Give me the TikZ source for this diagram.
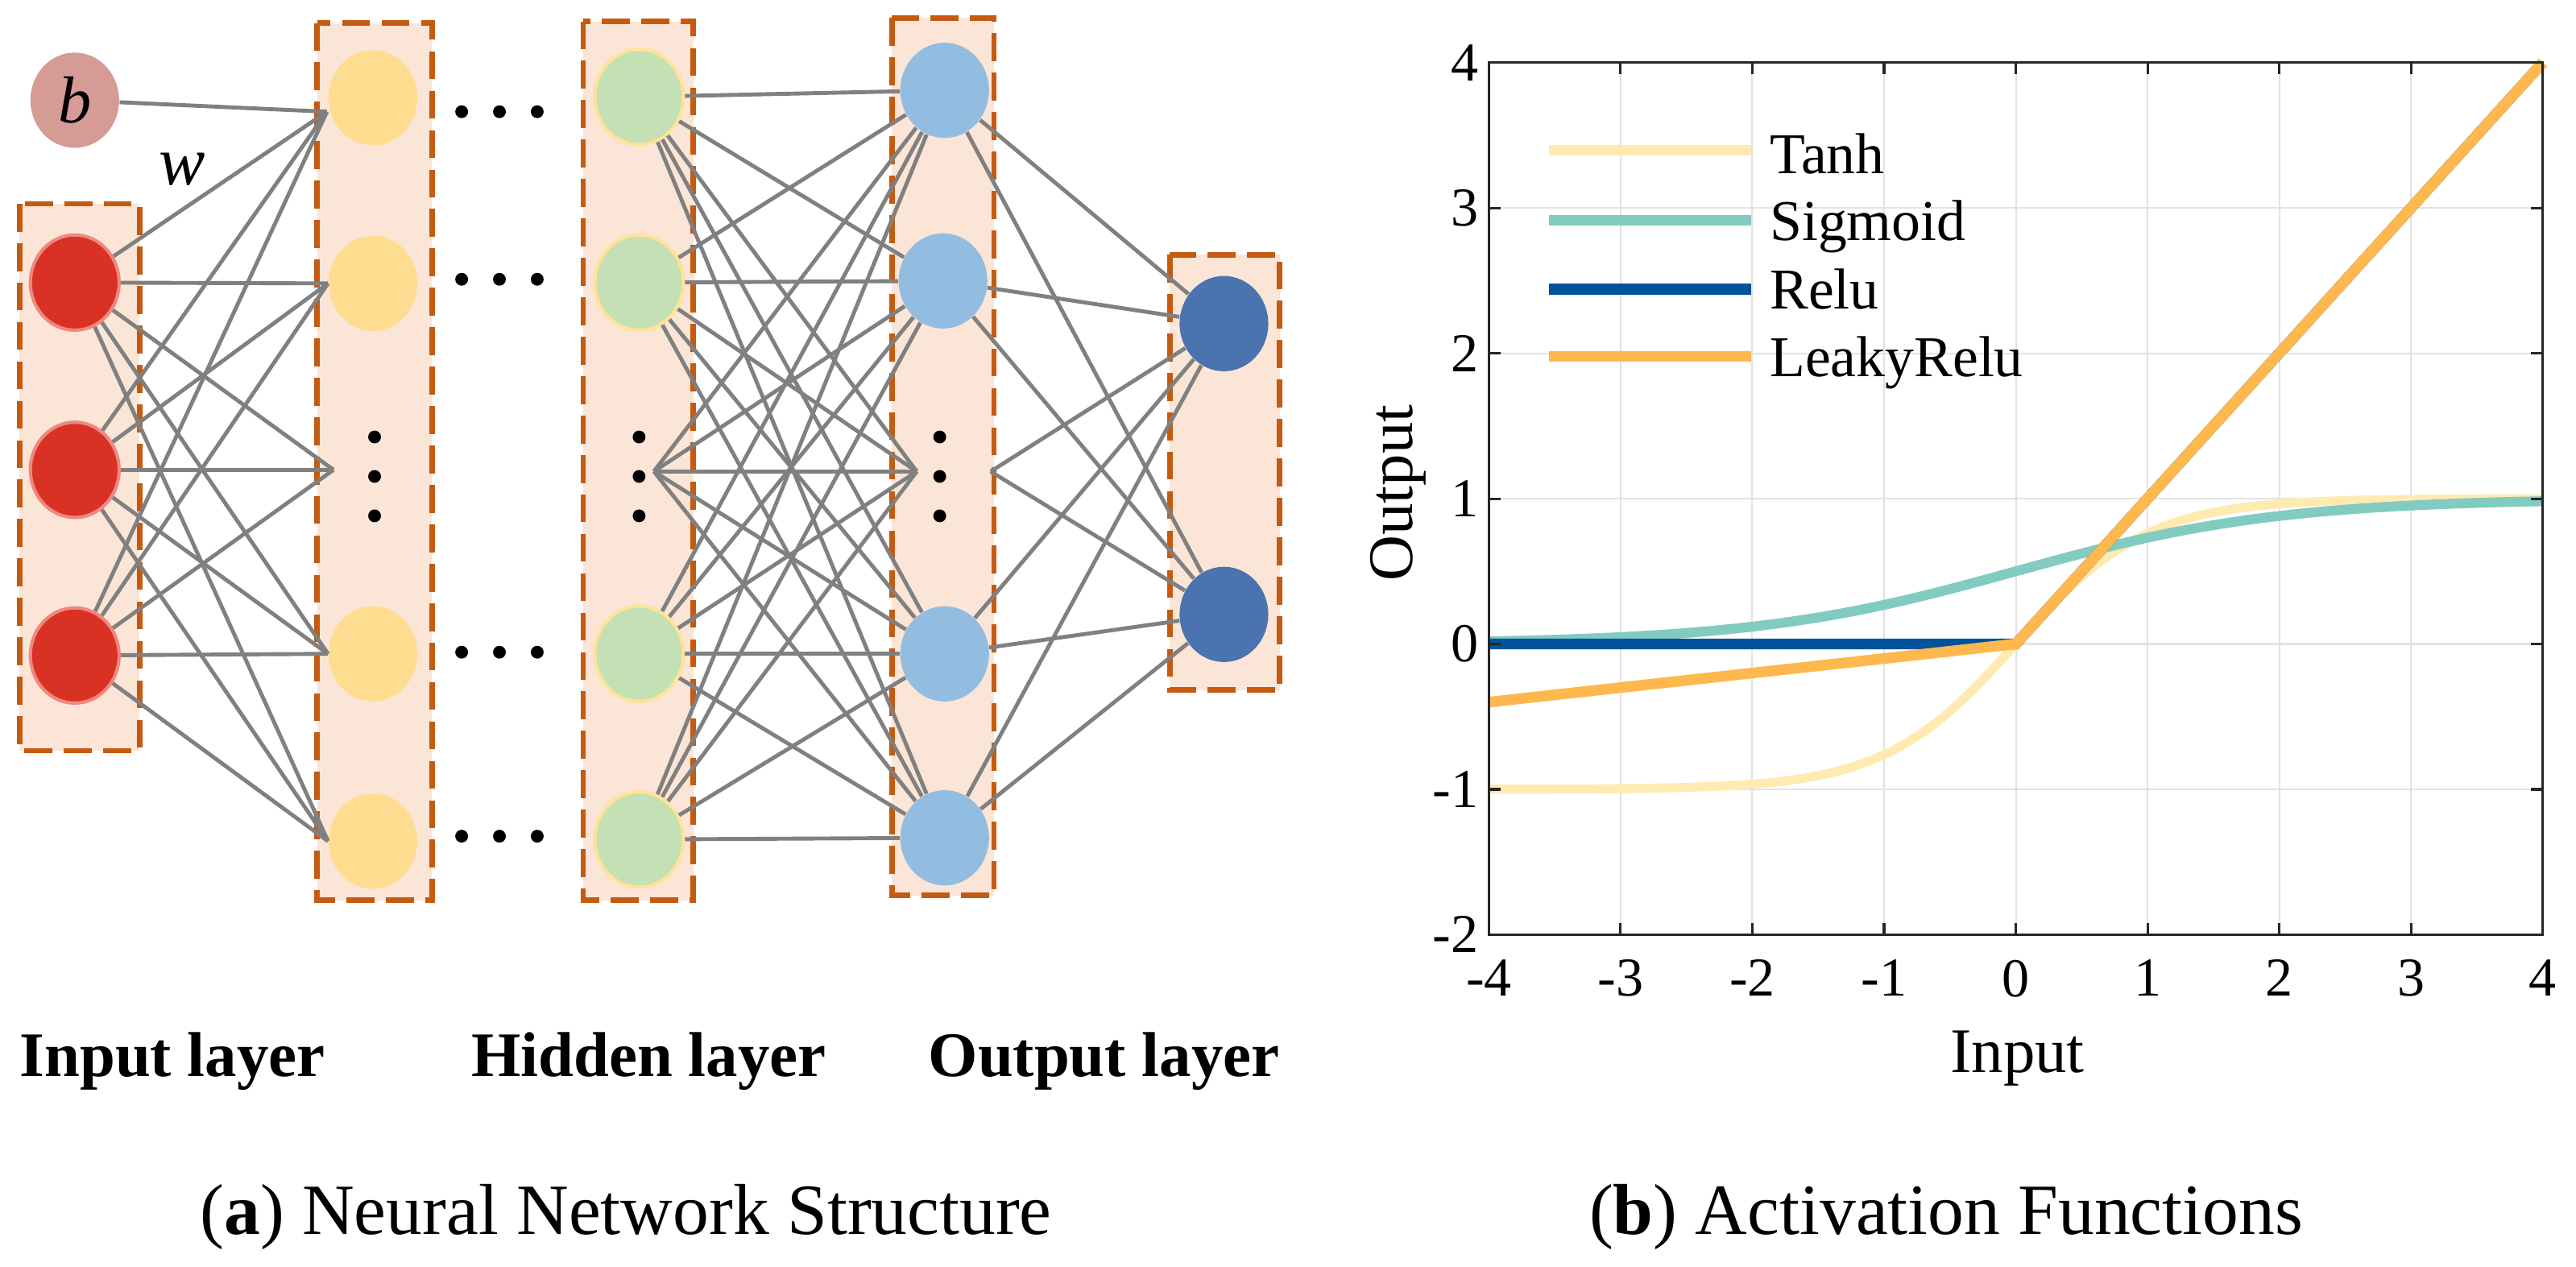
\documentclass[tikz,border=0pt]{standalone}
\usepackage{fontspec}
\setmainfont{Liberation Serif}
\usetikzlibrary{shapes.geometric}
\definecolor{boxfill}{HTML}{FBE5D6}
\definecolor{boxline}{HTML}{C55A11}
\definecolor{bfill}{HTML}{D79B96}
\definecolor{inred}{HTML}{DA3125}
\definecolor{inredline}{HTML}{EE8880}
\definecolor{hyellow}{HTML}{FFDD90}
\definecolor{hgreen}{HTML}{C5E0B4}
\definecolor{hgreenline}{HTML}{FFE397}
\definecolor{oblue}{HTML}{93BDE0}
\definecolor{odark}{HTML}{4A73B0}
\definecolor{edgec}{HTML}{808080}
\definecolor{ctanh}{HTML}{FFEAB2}
\definecolor{csig}{HTML}{82CBC1}
\definecolor{crelu}{HTML}{00539B}
\definecolor{cleaky}{HTML}{FFB84D}
\definecolor{gridc}{HTML}{E2E2E2}
\definecolor{axisc}{HTML}{262626}
\newcommand{\fsz}[1]{\fontsize{#1}{#1}\selectfont}
\tikzset{
  layerbox/.style={fill=boxfill, draw=boxline, line width=0.066cm, dash pattern=on 0.34cm off 0.14cm},
  neuron/.style={ellipse, minimum width=1.08cm, minimum height=1.16cm, inner sep=0pt},
  conn/.style={draw=edgec, line width=0.048cm},
  dotmark/.style={fill=black},
  lablayer/.style={font=\fsz{22pt}\bfseries, inner sep=0pt, anchor=base},
  captext/.style={font=\fsz{25pt}, inner sep=0pt, anchor=base},
  ticklab/.style={font=\fsz{19pt}, inner sep=0pt},
  axlab/.style={font=\fsz{22pt}, inner sep=0pt},
  legtext/.style={font=\fsz{20pt}, inner sep=0pt, anchor=base west},
  gridline/.style={draw=gridc, line width=0.02cm},
  axisline/.style={draw=axisc, line width=0.03cm},
}
\begin{document}
\begin{tikzpicture}[x=0.02cm, y=-0.02cm]
\useasboundingbox (0,0) rectangle (1568,771);

% ---------- layer boxes ----------
\draw[layerbox] (12,124) rectangle (85,457);
\draw[layerbox] (193,14) rectangle (263,548);
\draw[layerbox] (355,13) rectangle (422,548);
\draw[layerbox] (543,11) rectangle (605,545);
\draw[layerbox] (712,155) rectangle (779,420);

% ---------- neurons ----------
\node[neuron, fill=bfill] (b) at (45.5,61) {\fsz{23pt}\textit{b}};
\node[font=\fsz{24pt}\itshape, inner sep=0pt] (w) at (111,103) {w};

\node[neuron, fill=inred, draw=inredline, line width=0.04cm] (i1) at (45.5,172) {};
\node[neuron, fill=inred, draw=inredline, line width=0.04cm] (i2) at (45.5,286) {};
\node[neuron, fill=inred, draw=inredline, line width=0.04cm] (i3) at (45.5,399) {};

\node[neuron, fill=hyellow] (h1) at (227,59.5) {};
\node[neuron, fill=hyellow] (h2) at (227,172.5) {};
\coordinate (h3) at (203,286);
\node[neuron, fill=hyellow] (h4) at (227,398) {};
\node[neuron, fill=hyellow] (h5) at (227,512) {};
\coordinate (h1in) at (199,68);

\node[neuron, fill=hgreen, draw=hgreenline, line width=0.04cm] (g1) at (389,59) {};
\node[neuron, fill=hgreen, draw=hgreenline, line width=0.04cm] (g2) at (389,172) {};
\coordinate (g3) at (398,287);
\node[neuron, fill=hgreen, draw=hgreenline, line width=0.04cm] (g4) at (389,398) {};
\node[neuron, fill=hgreen, draw=hgreenline, line width=0.04cm] (g5) at (389,511) {};

\node[neuron, fill=oblue] (o1) at (575,55) {};
\node[neuron, fill=oblue] (o2) at (574,171) {};
\coordinate (o3) at (558,287);
\coordinate (o3r) at (603,287);
\node[neuron, fill=oblue] (o4) at (575,398) {};
\node[neuron, fill=oblue] (o5) at (575,510) {};

\node[neuron, fill=odark] (y1) at (745,197) {};
\node[neuron, fill=odark] (y2) at (745,374) {};

% ---------- connections ----------
\draw[conn] (b) -- (h1in);
\foreach \s in {i1,i2,i3}{
  \draw[conn] (\s) -- (h1in);
  \draw[conn] (\s) -- (h2.west);
  \draw[conn] (\s) -- (h3);
  \draw[conn] (\s) -- (h4.west);
  \draw[conn] (\s) -- (h5.west);
}
\foreach \s in {g1,g2,g3,g4,g5}
  \foreach \t in {o1,o2,o3,o4,o5}
    \draw[conn] (\s) -- (\t);
\foreach \s in {o1,o2,o3r,o4,o5}
  \foreach \t in {y1,y2}
    \draw[conn] (\s) -- (\t);

% ---------- dots ----------
\foreach \x in {228,389,572}
  \foreach \y in {266,290,314}
    \fill[dotmark] (\x,\y) circle[radius=0.078cm];
\foreach \y in {68,170,397,509}
  \foreach \x in {281,304,327}
    \fill[dotmark] (\x,\y) circle[radius=0.078cm];

% ---------- layer labels ----------
\node[lablayer] (lin) at (105,655.5) {Input layer};
\node[lablayer] (lhid) at (395,655.5) {Hidden layer};
\node[lablayer] (lout) at (672,655.5) {Output layer};
\node[captext] (capa) at (381,751.6) {(\textbf{a}) Neural Network Structure};

% ---------- plot ----------
\begin{scope}[shift={(1227,392)}, x=1.604cm, y=1.77cm]
  \foreach \i in {-3,...,3} \draw[gridline] (\i,-2) -- (\i,4);
  \foreach \j in {-1,...,3} \draw[gridline] (-4,\j) -- (4,\j);
  \draw[ctanh, line width=0.11cm] plot[domain=-4:4, samples=161] (\x,{tanh(\x)});
  \draw[csig, line width=0.12cm] plot[domain=-4:4, samples=161] (\x,{1/(1+exp(-\x))});
  \draw[crelu, line width=0.13cm] (-4,0) -- (0,0) -- (4,4);
  \draw[cleaky, line width=0.13cm] (-4,-0.4) -- (0,0) -- (4,4);
  \draw[axisline] (-4,-2) rectangle (4,4);
  \foreach \i in {-4,...,4}{
    \draw[axisline] (\i,-2) -- ++(0,0.14cm);
    \draw[axisline] (\i,4) -- ++(0,-0.14cm);
  }
  \foreach \j in {-2,...,4}{
    \draw[axisline] (-4,\j) -- ++(0.14cm,0);
    \draw[axisline] (4,\j) -- ++(-0.14cm,0);
  }
  \foreach \i [count=\k] in {-4,...,4}
    \node[ticklab, anchor=north] (xt\k) at ([yshift=-0.3cm]\i,-2) {\i};
  \foreach \j [count=\k] in {-2,...,4}
    \node[ticklab, anchor=east] (yt\k) at ([xshift=-0.12cm]-4,\j) {\j};
\end{scope}

\node[axlab, anchor=base] (xlab) at (1228,653) {Input};
\node[axlab, rotate=90] (ylab) at (851,300) {Output};

% legend
\draw[ctanh, line width=0.13cm] (943,91.6) -- (1066,91.6);
\draw[csig, line width=0.13cm] (943,134) -- (1066,134);
\draw[crelu, line width=0.13cm] (943,176) -- (1066,176);
\draw[cleaky, line width=0.13cm] (943,217) -- (1066,217);
\node[legtext] (lg1) at (1077,105.5) {Tanh};
\node[legtext] (lg2) at (1077,146.5) {Sigmoid};
\node[legtext] (lg3) at (1077,188) {Relu};
\node[legtext] (lg4) at (1077,229) {LeakyRelu};

\node[captext] (capb) at (1184.6,751.6) {(\textbf{b}) Activation Functions};
\end{tikzpicture}
\end{document}
